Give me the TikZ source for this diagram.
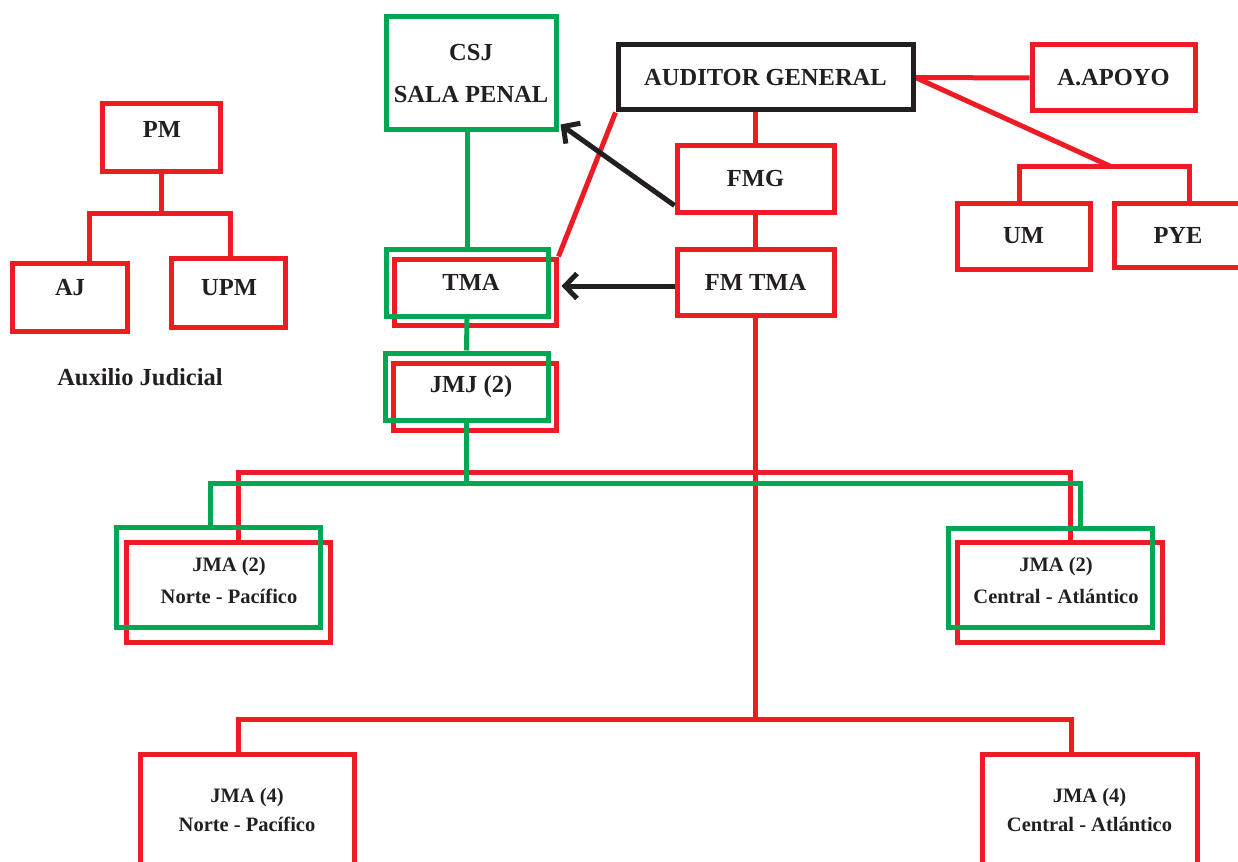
\documentclass[tikz,border=0pt]{standalone}
\usepackage{fontspec}
\setmainfont{Liberation Serif}
\usetikzlibrary{arrows.meta,calc}
\definecolor{ored}{HTML}{ED1C24}
\definecolor{ogreen}{HTML}{00A651}
\definecolor{oblack}{HTML}{231F20}
\pgfdeclarelayer{lr}
\pgfdeclarelayer{lg}
\pgfsetlayers{lr,lg,main}
\begin{document}
\begin{tikzpicture}[x=1pt,y=-1pt,
  big/.style={font=\bfseries\fontsize{24.5}{30}\selectfont},
  small/.style={font=\bfseries\fontsize{20.5}{32}\selectfont},
  smallb/.style={font=\bfseries\fontsize{20.5}{29}\selectfont},
  box/.style={draw,rectangle,line width=5pt,inner sep=0pt,text=oblack,big,align=center},
  rbox/.style={box,draw=ored},
  gbox/.style={box,draw=ogreen},
  kbox/.style={box,draw=oblack},
  sz/.style 2 args={minimum width=#1pt,minimum height=#2pt},
  txt/.style={text=oblack,inner sep=0pt,align=center,big},
  rline/.style={draw=ored,line width=5pt,line join=miter},
  gline/.style={draw=ogreen,line width=5pt,line join=miter},
  arr/.style={draw=oblack,line width=5pt,-{Straight Barb[length=12pt,width=25pt]}},
]
\useasboundingbox (0,0) rectangle (1238,861);
\node[kbox,sz={295}{65}] (ag) at (765.5,77.5) {AUDITOR GENERAL};

\begin{pgfonlayer}{lr}
\clip (0,0) rectangle (1238,861);
% red boxes
\node[rbox,sz={118}{68}] (pm) at (161,138) {};
\node[rbox,sz={115}{68}] (aj) at (69.5,297) {};
\node[rbox,sz={114}{69}] (upm) at (228,292.5) {};
\node[rbox,sz={163}{66}] (aapoyo) at (1113.5,78) {A.APOYO};
\node[rbox,sz={133}{66}] (um) at (1023.5,236) {UM};
\node[rbox,sz={128}{64}] (pye) at (1178,235) {PYE};
\node[rbox,sz={157}{66}] (fmg) at (755.5,179) {FMG};
\node[rbox,sz={157}{66}] (fmtma) at (755.5,282) {FM TMA};
\node[rbox,sz={162}{66}] (tmar) at (475,292) {};
\node[rbox,sz={163}{67}] (jmjr) at (474.5,396.5) {};
\node[rbox,sz={204}{100}] (jmaNr) at (228,592) {};
\node[rbox,sz={205}{100}] (jmaCr) at (1059.5,592) {};
\node[rbox,sz={214}{112},smallb] (jmaNb) at (247,810) {JMA (4)\\Norte - Pacífico};
\node[rbox,sz={215}{112},smallb] (jmaCb) at (1089.5,810) {JMA (4)\\Central - Atlántico};
% red connectors
\coordinate (pmj) at (161,213);
\coordinate (pmL) at (89,213);
\coordinate (pmR) at (230,213);
\draw[rline] (pm.south) -- (pmj);
\draw[rline] (aj.north -| pmL) -- (pmL) -- (pmR) -- (upm.north -| pmR);
\draw[rline] (ag.east) -- (aapoyo.west);
\coordinate (dj) at (1112,167);
\coordinate (umL) at (1019,167);
\coordinate (pyeR) at (1189,167);
\draw[rline] (ag.east) -- (dj);
\draw[rline] (um.north -| umL) -- (umL) -- (pyeR) -- (pye.north -| pyeR);
\draw[rline] (fmg.north) -- (fmg.north |- ag.south);
\draw[rline] (fmg.south) -- (fmtma.north);
\draw[rline] (ag.south west) -- (tmar.north east);
\coordinate (fb) at (755.5,719);
\coordinate (fbL) at (238,719);
\coordinate (fbR) at (1071,719);
\draw[rline] (fmtma.south) -- (fb);
\draw[rline] (jmaNb.north -| fbL) -- (fbL) -- (fbR) -- (jmaCb.north -| fbR);
\coordinate (rL) at (238,472);
\coordinate (rR) at (1070,472);
\draw[rline] (jmaNr.north -| rL) -- (rL) -- (rR) -- (jmaCr.north -| rR);
\end{pgfonlayer}

\begin{pgfonlayer}{lg}
\node[gbox,sz={170}{113},font=\bfseries\fontsize{24.5}{42}\selectfont] (csj) at (471,73.5) {CSJ\\SALA PENAL};
\node[gbox,sz={162}{67}] (tmag) at (467,282.5) {};
\node[gbox,sz={163}{67}] (jmjg) at (466.5,386.5) {};
\node[gbox,sz={204}{100}] (jmaNg) at (218,577) {};
\node[gbox,sz={204}{99}] (jmaCg) at (1050,577.5) {};
\draw[gline] (tmag.north) -- (tmag.north |- csj.south);
\draw[gline] (tmag.south) -- (jmjg.north);
\coordinate (gj) at (466.5,483);
\coordinate (gL) at (210,483);
\coordinate (gR) at (1080,483);
\draw[gline] (jmjg.south) -- (gj);
\draw[gline] (jmaNg.north -| gL) -- (gL) -- (gR) -- (jmaCg.north -| gR);
\end{pgfonlayer}

% black arrows
\draw[arr] ($(fmg.south west)+(0,-9)$) -- ($(csj.south east)+(2,-8)$);
\draw[arr] ($(fmtma.west)+(0,4)$) -- ($(tmar.east)+(3,-6)$);

% texts
\node[txt] (pmt) at (162,129) {PM};
\node[txt] (ajt) at (70,288) {AJ};
\node[txt] (upmt) at (229,288) {UPM};
\node[txt] (aux) at (140,377) {Auxilio Judicial};
\node[txt] (tmat) at (471,282) {TMA};
\node[txt] (jmjt) at (471,387) {JMJ (2)};
\node[txt,small] (jmaNt) at (229,580) {JMA (2)\\Norte - Pacífico};
\node[txt,small] (jmaCt) at (1056,580) {JMA (2)\\Central - Atlántico};
\end{tikzpicture}
\end{document}
